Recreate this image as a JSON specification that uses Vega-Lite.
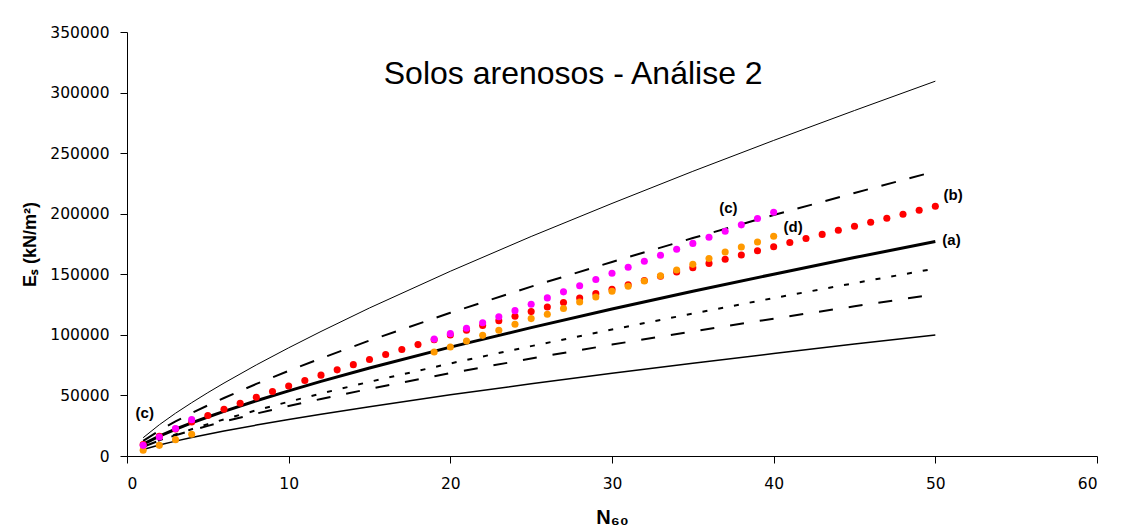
{
  "$schema": "https://vega.github.io/schema/vega-lite/v6.json",
  "width": 970,
  "height": 424,
  "autosize": {"type": "none"},
  "padding": {"left": 127, "top": 32, "right": 26, "bottom": 71},
  "background": "white",
  "config": {"view": {"stroke": null}},
  "datasets": {
    "lines": [
      {"s":"A","N":1,"E":15100},{"s":"A","N":2,"E":25800},{"s":"A","N":3,"E":35300},{"s":"A","N":4,"E":44000},{"s":"A","N":5,"E":52300},{"s":"A","N":6,"E":60200},{"s":"A","N":8,"E":75200},{"s":"A","N":10,"E":89300},{"s":"A","N":12,"E":102800},{"s":"A","N":15,"E":122200},{"s":"A","N":20,"E":152500},{"s":"A","N":25,"E":181200},{"s":"A","N":30,"E":208500},{"s":"A","N":35,"E":235000},{"s":"A","N":40,"E":260500},{"s":"A","N":45,"E":285200},{"s":"A","N":50,"E":309400},
      {"s":"B","N":1,"E":12500},{"s":"B","N":2,"E":21000},{"s":"B","N":3,"E":28500},{"s":"B","N":4,"E":35400},{"s":"B","N":5,"E":41800},{"s":"B","N":6,"E":47900},{"s":"B","N":8,"E":59500},{"s":"B","N":10,"E":70300},{"s":"B","N":12,"E":80600},{"s":"B","N":15,"E":95300},{"s":"B","N":20,"E":118200},{"s":"B","N":25,"E":139800},{"s":"B","N":30,"E":160200},{"s":"B","N":35,"E":179900},{"s":"B","N":40,"E":198900},{"s":"B","N":45,"E":217100},{"s":"B","N":50,"E":235000},
      {"s":"F","N":1,"E":9790},{"s":"F","N":2,"E":16350},{"s":"F","N":3,"E":22080},{"s":"F","N":4,"E":27300},{"s":"F","N":5,"E":32210},{"s":"F","N":6,"E":36870},{"s":"F","N":8,"E":45610},{"s":"F","N":10,"E":53800},{"s":"F","N":12,"E":61580},{"s":"F","N":15,"E":72630},{"s":"F","N":20,"E":89850},{"s":"F","N":25,"E":106000},{"s":"F","N":30,"E":121300},{"s":"F","N":35,"E":136000},{"s":"F","N":40,"E":150100},{"s":"F","N":45,"E":163800},{"s":"F","N":50,"E":177000},
      {"s":"G","N":1,"E":7610},{"s":"G","N":2,"E":12970},{"s":"G","N":3,"E":17730},{"s":"G","N":4,"E":22120},{"s":"G","N":5,"E":26280},{"s":"G","N":6,"E":30240},{"s":"G","N":8,"E":37730},{"s":"G","N":10,"E":44810},{"s":"G","N":12,"E":51570},{"s":"G","N":15,"E":61230},{"s":"G","N":20,"E":76400},{"s":"G","N":25,"E":90710},{"s":"G","N":30,"E":104400},{"s":"G","N":35,"E":117600},{"s":"G","N":40,"E":130400},{"s":"G","N":45,"E":142700},{"s":"G","N":50,"E":154700},
      {"s":"H","N":1,"E":7680},{"s":"H","N":2,"E":12740},{"s":"H","N":3,"E":17120},{"s":"H","N":4,"E":21130},{"s":"H","N":5,"E":24860},{"s":"H","N":6,"E":28400},{"s":"H","N":8,"E":35030},{"s":"H","N":10,"E":41220},{"s":"H","N":12,"E":47110},{"s":"H","N":15,"E":55430},{"s":"H","N":20,"E":68380},{"s":"H","N":25,"E":80460},{"s":"H","N":30,"E":91970},{"s":"H","N":35,"E":102900},{"s":"H","N":40,"E":113400},{"s":"H","N":45,"E":123600},{"s":"H","N":50,"E":133500},
      {"s":"I","N":1,"E":5420},{"s":"I","N":2,"E":9080},{"s":"I","N":3,"E":12280},{"s":"I","N":4,"E":15220},{"s":"I","N":5,"E":17970},{"s":"I","N":6,"E":20590},{"s":"I","N":8,"E":25510},{"s":"I","N":10,"E":30120},{"s":"I","N":12,"E":34500},{"s":"I","N":15,"E":40740},{"s":"I","N":20,"E":50480},{"s":"I","N":25,"E":59600},{"s":"I","N":30,"E":68270},{"s":"I","N":35,"E":76610},{"s":"I","N":40,"E":84580},{"s":"I","N":45,"E":92380},{"s":"I","N":50,"E":99900}
    ],
    "pts": [
      {"s":"b","N":1,"E":9370},{"s":"b","N":2,"E":16210},{"s":"b","N":3,"E":22330},{"s":"b","N":4,"E":28030},{"s":"b","N":5,"E":33420},{"s":"b","N":6,"E":38610},{"s":"b","N":7,"E":43600},{"s":"b","N":8,"E":48460},{"s":"b","N":9,"E":53170},{"s":"b","N":10,"E":57790},
      {"s":"b","N":11,"E":62310},{"s":"b","N":12,"E":66750},{"s":"b","N":13,"E":71100},{"s":"b","N":14,"E":75400},{"s":"b","N":15,"E":79620},{"s":"b","N":16,"E":83790},{"s":"b","N":17,"E":87890},{"s":"b","N":18,"E":91950},{"s":"b","N":19,"E":95960},{"s":"b","N":20,"E":99930},
      {"s":"b","N":21,"E":103860},{"s":"b","N":22,"E":107740},{"s":"b","N":23,"E":111590},{"s":"b","N":24,"E":115420},{"s":"b","N":25,"E":119200},{"s":"b","N":26,"E":122950},{"s":"b","N":27,"E":126670},{"s":"b","N":28,"E":130360},{"s":"b","N":29,"E":134030},{"s":"b","N":30,"E":137660},
      {"s":"b","N":31,"E":141290},{"s":"b","N":32,"E":144870},{"s":"b","N":33,"E":148430},{"s":"b","N":34,"E":151980},{"s":"b","N":35,"E":155490},{"s":"b","N":36,"E":159000},{"s":"b","N":37,"E":162460},{"s":"b","N":38,"E":165920},{"s":"b","N":39,"E":169360},{"s":"b","N":40,"E":172780},
      {"s":"b","N":41,"E":176190},{"s":"b","N":42,"E":179580},{"s":"b","N":43,"E":182930},{"s":"b","N":44,"E":186300},{"s":"b","N":45,"E":189630},{"s":"b","N":46,"E":192940},{"s":"b","N":47,"E":196260},{"s":"b","N":48,"E":199550},{"s":"b","N":49,"E":202830},{"s":"b","N":50,"E":206100},
      {"s":"d","N":1,"E":4700},{"s":"d","N":2,"E":8800},{"s":"d","N":3,"E":13500},{"s":"d","N":4,"E":17900},
      {"s":"d","N":19,"E":85800},{"s":"d","N":20,"E":90000},{"s":"d","N":21,"E":94900},{"s":"d","N":22,"E":99600},{"s":"d","N":23,"E":103800},{"s":"d","N":24,"E":108700},{"s":"d","N":25,"E":113400},{"s":"d","N":26,"E":117000},{"s":"d","N":27,"E":121700},{"s":"d","N":28,"E":127100},{"s":"d","N":29,"E":131300},{"s":"d","N":30,"E":136000},{"s":"d","N":31,"E":140100},{"s":"d","N":32,"E":144500},{"s":"d","N":33,"E":148800},{"s":"d","N":34,"E":153600},{"s":"d","N":35,"E":158200},{"s":"d","N":36,"E":163000},{"s":"d","N":37,"E":168400},{"s":"d","N":38,"E":172500},{"s":"d","N":39,"E":176700},{"s":"d","N":40,"E":181400},
      {"s":"c","N":1,"E":8800},{"s":"c","N":2,"E":15700},{"s":"c","N":3,"E":22600},{"s":"c","N":4,"E":30000},
      {"s":"c","N":19,"E":96500},{"s":"c","N":20,"E":101000},{"s":"c","N":21,"E":105500},{"s":"c","N":22,"E":110000},{"s":"c","N":23,"E":115000},{"s":"c","N":24,"E":120000},{"s":"c","N":25,"E":125300},{"s":"c","N":26,"E":130500},{"s":"c","N":27,"E":135500},{"s":"c","N":28,"E":140500},{"s":"c","N":29,"E":145700},{"s":"c","N":30,"E":150800},{"s":"c","N":31,"E":155800},{"s":"c","N":32,"E":160700},{"s":"c","N":33,"E":165700},{"s":"c","N":34,"E":170700},{"s":"c","N":35,"E":175500},{"s":"c","N":36,"E":180500},{"s":"c","N":37,"E":185500},{"s":"c","N":38,"E":190800},{"s":"c","N":39,"E":196000},{"s":"c","N":40,"E":201200}
    ],
    "labels": [
      {"t":"(c)","N":37.2,"E":204500},
      {"t":"(d)","N":41.2,"E":188800},
      {"t":"(b)","N":51.1,"E":215200},
      {"t":"(a)","N":51.0,"E":178200},
      {"t":"(c)","N":1.1,"E":35400}
    ],
    "title": [
      {"t":"Solos arenosos - Análise 2","N":27.6,"E":315100}
    ]
  },
  "encoding": {
    "x": {
      "field": "N", "type": "quantitative",
      "scale": {"domain": [0, 60], "nice": false},
      "axis": {
        "title": "N₆₀", "values": [0,10,20,30,40,50,60], "grid": false,
        "domainColor": "black", "tickColor": "black", "tickSize": 7,
        "labelFont": "DejaVu Sans", "labelFontSize": 15.5, "labelColor": "black", "labelPadding": 13,
        "titleFont": "Liberation Sans", "titleFontSize": 20, "titleFontWeight": "bold", "titleColor": "black", "titlePadding": 16
      }
    },
    "y": {
      "field": "E", "type": "quantitative",
      "scale": {"domain": [0, 350000], "nice": false},
      "axis": {
        "title": "Eₛ  (kN/m²)", "values": [0,50000,100000,150000,200000,250000,300000,350000], "format": "d", "grid": false,
        "domainColor": "black", "tickColor": "black", "tickSize": 7,
        "labelFont": "DejaVu Sans", "labelFontSize": 15.5, "labelColor": "black", "labelPadding": 11,
        "titleFont": "Liberation Sans", "titleFontSize": 18, "titleFontWeight": "bold", "titleColor": "black", "titlePadding": 10
      }
    }
  },
  "layer": [
    {"data": {"name": "lines"}, "transform": [{"filter": "datum.s == 'I'"}], "mark": {"type": "line", "color": "black", "strokeWidth": 1.5}, "encoding": {}},
    {"data": {"name": "lines"}, "transform": [{"filter": "datum.s == 'H'"}], "mark": {"type": "line", "color": "black", "strokeWidth": 2, "strokeDash": [14, 16]}, "encoding": {}},
    {"data": {"name": "lines"}, "transform": [{"filter": "datum.s == 'G'"}], "mark": {"type": "line", "color": "black", "strokeWidth": 2, "strokeDash": [5, 11]}, "encoding": {}},
    {"data": {"name": "lines"}, "transform": [{"filter": "datum.s == 'F'"}], "mark": {"type": "line", "color": "black", "strokeWidth": 3}, "encoding": {}},
    {"data": {"name": "lines"}, "transform": [{"filter": "datum.s == 'B'"}], "mark": {"type": "line", "color": "black", "strokeWidth": 2, "strokeDash": [15, 14]}, "encoding": {}},
    {"data": {"name": "lines"}, "transform": [{"filter": "datum.s == 'A'"}], "mark": {"type": "line", "color": "black", "strokeWidth": 1}, "encoding": {}},
    {"data": {"name": "pts"}, "transform": [{"filter": "datum.s == 'b'"}], "mark": {"type": "point", "shape": "circle", "filled": true, "size": 50, "color": "#FF0000", "opacity": 1}},
    {"data": {"name": "pts"}, "transform": [{"filter": "datum.s == 'd'"}], "mark": {"type": "point", "shape": "circle", "filled": true, "size": 50, "color": "#FF9900", "opacity": 1}},
    {"data": {"name": "pts"}, "transform": [{"filter": "datum.s == 'c'"}], "mark": {"type": "point", "shape": "circle", "filled": true, "size": 50, "color": "#FF00FF", "opacity": 1}},
    {"data": {"name": "labels"}, "mark": {"type": "text", "font": "Liberation Sans", "fontSize": 15, "fontWeight": "bold", "color": "black", "align": "center", "baseline": "middle"}, "encoding": {"text": {"field": "t"}}},
    {"data": {"name": "title"}, "mark": {"type": "text", "font": "Liberation Sans", "fontSize": 32, "color": "black", "align": "center", "baseline": "middle"}, "encoding": {"text": {"field": "t"}}}
  ]
}
